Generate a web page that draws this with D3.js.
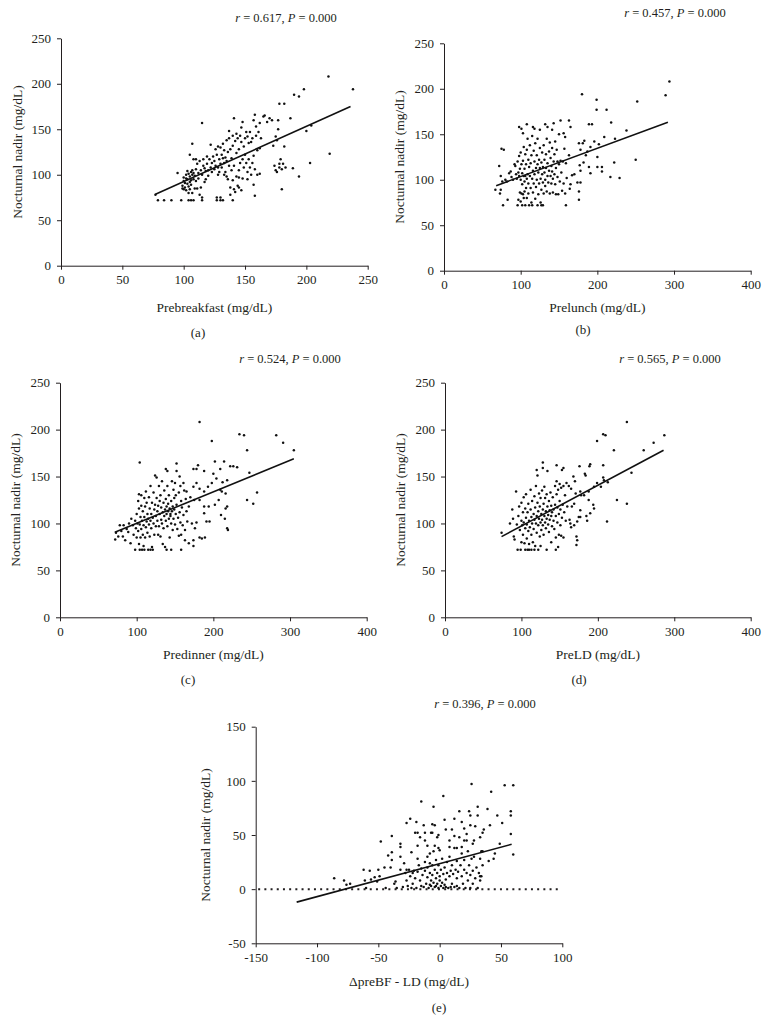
<!DOCTYPE html>
<html><head><meta charset="utf-8">
<script src="https://cdn.jsdelivr.net/npm/d3@7"></script>
<style>body{margin:0;background:#fff}</style>
</head><body><svg id="c" width="769" height="1033"></svg>
<script>
// ---------- DATA ----------
const pointsA = [[77,78],[79,72],[84,72],[90,72],[95,102],[98,72],[99,85],[99,88],[100,93],[100,84],[100,97],[101,86],[101,91],
[102,100],[102,96],[102,83],[103,90],[103,104],[103,95],[104,72],[104,87],[104,101],[104,80],[105,92],[105,98],[105,122],[105,84],[106,103],[106,72],[106,94],[106,89],[107,100],[107,105],[107,134],[107,80],[108,72],[108,117],[108,95],[108,102],[109,85],[109,99],[110,106],[110,117],[110,93],
[111,112],[111,85],[112,102],[112,96],[113,115],[113,78],[114,105],[114,86],[115,157],[115,72],[115,100],[115,75],[116,117],[116,110],[117,107],[117,92],[118,104],[118,95],[119,120],[119,112],[120,105],[120,99],
[121,117],[122,108],[122,133],[123,113],[123,103],[124,120],[125,106],[125,115],[126,128],[126,110],[127,75],[127,72],[127,122],[128,131],[128,108],[128,100],[129,117],[129,103],[130,130],[130,112],[130,75],[130,72],
[131,122],[131,108],[132,134],[132,118],[132,72],[133,100],[133,113],[133,127],[134,103],[134,119],[135,98],[135,138],[135,115],[136,125],[136,95],[137,110],[137,140],[137,148],[138,128],[138,86],[138,78],[139,118],[139,105],[140,143],[140,72],[140,132],[140,94],
[141,162],[141,84],[141,110],[142,137],[142,81],[143,124],[143,98],[143,145],[144,88],[144,140],[145,105],[145,128],[145,86],[145,97],[146,143],[146,113],[147,83],[147,136],[147,152],[148,96],[148,117],[148,158],[149,108],[149,131],[150,140],[150,122],
[151,113],[151,147],[152,103],[152,142],[152,95],[153,135],[153,117],[154,147],[154,108],[155,136],[155,100],[156,140],[156,113],[157,121],[157,89],[157,160],[158,166],[158,77],[158,106],[159,143],[159,153],[160,100],[160,127],[161,147],[162,157],[162,129],[162,101],
[163,140],[165,164],[166,165],[168,158],[170,162],[172,160],[173,132],[174,110],[175,142],[175,105],[176,138],[176,103],[177,160],[177,150],[178,178],[178,112],[178,108],[179,117],[180,84],[180,106],[181,112],[182,131],[182,178],[183,108],
[187,162],[189,107],[190,188],[194,186],[194,98],[198,194],[200,148],[203,113],[204,154],[218,208],[219,123],[238,194]];

const pointsB = [[67,89],[72,115],[73,85],[74,104],[74,89],[75,134],[76,98],[77,72],[78,133],[80,100],[82,98],[83,78],[85,107],[87,109],[88,103],[90,100],[92,117],[93,115],[94,106],[95,101],[96,72],[96,120],[97,108],[97,78],[98,158],[98,104],[98,126],[99,86],[99,112],[100,100],[100,76],[100,130],[101,156],[101,117],[101,85],[102,72],[102,107],[102,95],[103,151],[103,121],[103,84],[104,104],[104,136],[104,80],[105,98],[105,112],[105,87],[106,72],[106,128],[106,104],[107,117],[107,91],[108,161],[108,101],[108,133],[108,80],[109,106],[109,145],[110,122],[110,85],[110,96],[111,72],[111,114],[112,138],[112,104],[113,91],[113,118],[114,127],[114,75],[115,101],[115,72],[115,148],[116,158],[116,110],[116,86],[117,132],[117,96],[118,156],[118,120],[118,106],[119,79],[119,140],[120,113],[120,92],[121,100],[121,127],[122,72],[122,117],[122,145],[123,108],[123,84],[124,122],[124,96],[125,155],[125,135],[125,113],[126,101],[126,75],[127,72],[127,119],[127,89],[128,106],[128,130],[129,72],[129,97],[129,114],[130,138],[130,85],[131,108],[131,122],[132,161],[132,100],[132,93],[133,128],[133,113],[134,87],[134,145],[135,158],[135,104],[135,118],[136,97],[137,131],[137,110],[138,85],[138,141],[139,104],[139,124],[140,115],[140,96],[141,155],[141,135],[141,109],[142,101],[142,86],[143,162],[143,120],[144,128],[144,106],[145,95],[145,142],[146,113],[146,84],[147,133],[148,120],[148,103],[149,84],[150,150],[150,117],[151,98],[152,165],[152,121],[153,108],[154,88],[155,120],[156,151],[156,96],[157,134],[158,147],[158,85],[159,72],[159,118],[160,102],[163,165],[163,127],[164,90],[165,158],[165,95],[167,105],[170,106],[174,97],[176,140],[176,87],[176,78],[177,116],[178,133],[178,110],[178,97],[180,194],[181,140],[182,119],[183,143],[185,127],[187,131],[189,114],[189,161],[191,107],[191,136],[193,161],[196,142],[199,188],[199,177],[200,125],[200,114],[202,139],[206,114],[206,109],[209,147],[212,177],[217,103],[218,163],[222,119],[223,145],[229,102],[238,154],[250,122],[252,186],[289,193],[294,208]];

const pointsC = [[72,83],[73,90],[76,86],[78,98],[80,92],[82,86],[83,98],[85,82],[87,94],[89,91],[90,100],[92,79],[93,105],[95,98],[96,88],[98,72],[98,103],[99,95],[100,110],[100,85],[101,100],[102,124],[102,92],[103,116],[103,131],[103,78],[104,72],[104,165],[104,99],[105,107],[105,85],[106,119],[106,130],[106,94],[107,72],[107,103],[108,113],[108,88],[109,76],[109,98],[110,72],[110,127],[110,107],[111,118],[111,85],[112,134],[112,96],[113,102],[113,122],[114,90],[114,110],[115,72],[115,105],[116,99],[116,128],[117,116],[117,86],[118,72],[118,103],[118,140],[119,110],[119,95],[120,122],[120,75],[121,72],[121,106],[122,133],[122,100],[123,115],[123,88],[124,151],[124,120],[125,108],[125,97],[126,149],[126,127],[127,113],[127,103],[128,88],[128,119],[129,140],[129,97],[130,110],[130,124],[131,130],[131,86],[132,104],[132,117],[133,145],[133,100],[134,112],[134,78],[135,122],[135,95],[136,108],[136,135],[137,115],[137,75],[138,158],[138,103],[138,126],[139,72],[139,110],[139,118],[140,156],[140,97],[140,140],[141,113],[141,121],[142,105],[142,130],[143,116],[143,85],[144,110],[144,108],[145,72],[145,124],[145,100],[146,145],[146,113],[147,118],[147,93],[148,136],[148,105],[149,127],[149,115],[150,99],[150,143],[151,110],[151,130],[152,164],[152,156],[152,120],[153,94],[154,106],[155,133],[155,87],[156,150],[156,112],[157,101],[157,140],[158,72],[158,88],[158,124],[159,117],[160,98],[161,143],[161,109],[162,135],[163,82],[163,93],[164,126],[165,134],[165,113],[166,102],[168,79],[168,118],[170,128],[172,100],[174,82],[174,76],[174,139],[174,158],[175,125],[176,95],[178,101],[178,143],[178,158],[180,162],[182,137],[182,85],[182,125],[182,208],[185,84],[188,156],[188,134],[188,118],[188,111],[189,85],[191,102],[193,139],[194,118],[195,102],[198,143],[198,188],[200,153],[202,120],[202,166],[204,148],[207,125],[209,136],[209,158],[210,109],[211,134],[212,144],[214,166],[215,105],[216,132],[216,116],[218,146],[218,118],[218,95],[219,93],[222,161],[226,161],[231,160],[234,195],[240,194],[244,178],[244,125],[247,154],[252,121],[257,133],[282,194],[291,186],[305,178]];

const pointsD = [[74,90],[85,100],[88,115],[89,105],[90,86],[91,83],[93,134],[94,99],[95,72],[96,108],[97,118],[98,93],[99,72],[100,103],[100,122],[100,80],[101,98],[102,112],[102,88],[103,128],[103,101],[104,79],[105,72],[105,95],[105,116],[106,106],[106,131],[107,84],[107,99],[108,72],[108,112],[109,121],[109,92],[110,72],[110,103],[110,78],[111,96],[112,115],[112,136],[113,72],[113,107],[113,88],[114,100],[114,124],[115,80],[116,110],[116,94],[117,72],[117,129],[117,104],[118,76],[118,117],[119,100],[119,140],[120,157],[120,108],[120,90],[121,151],[121,122],[122,72],[122,98],[122,113],[123,132],[123,105],[124,86],[124,118],[125,76],[125,101],[125,127],[126,110],[126,93],[127,135],[127,104],[128,159],[128,165],[128,115],[128,98],[129,121],[129,88],[130,108],[130,139],[131,101],[131,127],[132,95],[132,113],[133,72],[133,131],[133,105],[134,156],[134,118],[135,99],[135,109],[136,124],[136,91],[137,114],[137,104],[138,133],[139,80],[139,108],[139,119],[140,97],[140,112],[141,128],[142,103],[142,115],[143,94],[144,140],[144,120],[145,72],[145,108],[145,85],[146,162],[146,145],[146,131],[147,117],[147,101],[148,75],[148,136],[149,110],[149,88],[150,124],[150,142],[151,98],[151,115],[152,87],[152,138],[153,157],[153,106],[154,120],[155,140],[155,159],[155,85],[156,112],[157,130],[158,103],[159,143],[160,118],[162,140],[163,104],[164,100],[165,96],[165,137],[166,118],[168,150],[169,98],[169,121],[170,145],[171,132],[172,86],[172,77],[173,82],[173,102],[175,107],[176,161],[177,134],[177,114],[177,107],[178,130],[182,130],[183,153],[184,151],[185,108],[186,103],[188,134],[188,125],[189,161],[190,163],[190,111],[194,120],[195,139],[195,116],[199,188],[199,143],[204,139],[207,162],[207,195],[207,149],[208,146],[210,194],[212,102],[213,144],[221,178],[225,125],[238,208],[238,121],[244,154],[260,178],[273,186],[287,194]];

const pointsE = [[-86,10],[-78,8],[-76,4],[-73,5],[-62,18],[-61,8],[-57,17],[-56,9],[-53,11],[-50,18],[-49,12],[-48,44],[-51,7],[-45,20],[-42,31],[-40,20],[-39,34],[-39,27],[-39,49],[-37,5],[-36,7],[-32,18],[-32,42],[-32,39],[-32,30],[-29,24],[-27,18],[-27,61],[-24,65],[-23,34],[-22,15],[-19,62],[-18,52],[-18,28],[-16,48],[-15,81],[-13,59],[-12,45],[-10,30],[-8,24],[-7,52],[-6,60],[-5,76],[-4,59],[-2,48],[-1,50],[0,36],[3,86],[4,64],[8,39],[10,55],[12,49],[16,72],[18,39],[20,45],[22,51],[24,72],[25,68],[26,97],[25,59],[27,42],[29,58],[31,68],[31,76],[33,48],[34,35],[36,55],[39,74],[41,59],[42,90],[45,33],[47,68],[49,42],[51,61],[53,96],[58,51],[58,72],[58,68],[60,96],[60,32],
[-28,15],[-27,8],[-26,3],[-25,18],[-24,12],[-23,1],[-22,5],[-21,17],[-20,10],[-19,1],[-18,16],[-17,22],[-16,8],[-15,19],[-14,13],[-13,2],[-12,25],[-12,17],[-11,5],[-10,11],[-10,20],[-9,1],[-8,15],[-8,33],[-7,8],[-7,3],[-6,22],[-6,13],[-5,6],[-5,35],[-4,18],[-4,2],[-3,10],[-3,27],[-2,5],[-2,15],[-1,1],[-1,22],[0,8],[0,12],[1,3],[1,18],[2,6],[2,28],[3,14],[3,1],[4,20],[5,9],[5,2],[6,25],[6,15],[7,1],[8,12],[8,30],[9,17],[10,5],[10,22],[11,14],[12,2],[12,38],[13,18],[14,10],[14,26],[15,16],[16,1],[16,48],[17,22],[18,12],[18,33],[19,5],[20,18],[20,27],[21,1],[22,15],[23,35],[23,8],[24,22],[25,13],[25,1],[26,28],[27,17],[27,5],[28,30],[29,10],[30,20],[31,1],[32,15],[33,8],[33,28],[34,12],[35,35],[35,22],
[-20,52],[-18,40],[-10,40],[-6,52],[-12,52],[-4,40],[-1,38],[5,55],[8,45],[14,38],[20,56],[22,45],[12,65],[18,62],[28,45],[35,52],[40,26],[44,28],[33,12],[-30,2],[-15,3],[-8,4],[-3,3],[4,4],[9,2],[14,3],[-44,1],[-35,1],[-60,1]];

const fitA = [[77,78.5],[236,175]];
const fitB = [[68,93.5],[292,163.3]];
const fitC = [[71.5,90.6],[305,169]];
const fitD = [[74,86],[286,178]];
const fitE = [[-116.6,-12],[58.7,41.4]];
const zeroLineE = [[-148,0],[98,0]];

const xLabels = ["Prebreakfast (mg/dL)","Prelunch (mg/dL)","Predinner (mg/dL)","PreLD (mg/dL)","\u0394preBF - LD (mg/dL)"];
const yLabel = "Nocturnal nadir (mg/dL)";
const rValues = ["0.617","0.457","0.524","0.565","0.396"];
const pValues = ["0.000","0.000","0.000","0.000","0.000"];
const panelLetters = ["(a)","(b)","(c)","(d)","(e)"];
const xTicksA = [0,50,100,150,200,250];
const xTicksBCD = [0,100,200,300,400];
const yTicksABCD = [0,50,100,150,200,250];
const xTicksE = [-150,-100,-50,0,50,100];
const yTicksE = [-50,0,50,100,150];

// ---------- LAYOUT ----------
const panels = [
 {pts:pointsA, fit:fitA, xd:[0,250], yd:[0,250], xt:xTicksA, yt:yTicksABCD, box:{l:61,r:367.7,t:38.3,b:265.7}, tx:286, ty:22, xly:312, lx:198, ly:337, yl:44},
 {pts:pointsB, fit:fitB, xd:[0,400], yd:[0,250], xt:xTicksBCD, yt:yTicksABCD, box:{l:444,r:750.7,t:43.3,b:270.7}, tx:675, ty:16.5, xly:312, lx:583, ly:334, yl:45},
 {pts:pointsC, fit:fitC, xd:[0,400], yd:[0,250], xt:xTicksBCD, yt:yTicksABCD, box:{l:60,r:366.7,t:382.7,b:617.3}, tx:290, ty:363, xly:659, lx:188, ly:684, yl:44.5},
 {pts:pointsD, fit:fitD, xd:[0,400], yd:[0,250], xt:xTicksBCD, yt:yTicksABCD, box:{l:445,r:750.7,t:382.7,b:617.3}, tx:670, ty:363, xly:659, lx:579, ly:684, yl:45},
 {pts:pointsE, fit:fitE, xd:[-150,100], yd:[-50,150], xt:xTicksE, yt:yTicksE, box:{l:255.7,r:562.3,t:726.7,b:943.3}, tx:485, ty:708, xly:986, lx:439, ly:1012, yl:50, zero:zeroLineE}
];

const FONT = "'Liberation Serif','Times New Roman',serif";
const ink = "#231f20";
const svg = d3.select("#c");
svg.append("rect").attr("width",769).attr("height",1033).attr("fill","#fff");

panels.forEach((p,i)=>{
  const x = d3.scaleLinear().domain(p.xd).range([p.box.l,p.box.r]);
  const y = d3.scaleLinear().domain(p.yd).range([p.box.b,p.box.t]);
  const g = svg.append("g");
  const fmt = d=>String(d);

  const xa = g.append("g").attr("transform",`translate(0,${p.box.b})`)
    .call(d3.axisBottom(x).tickValues(p.xt).tickSize(4).tickSizeOuter(0).tickPadding(5).tickFormat(fmt));
  const ya = g.append("g").attr("transform",`translate(${p.box.l},0)`)
    .call(d3.axisLeft(y).tickValues(p.yt).tickSize(4).tickSizeOuter(0).tickPadding(6).tickFormat(fmt));
  [xa,ya].forEach(a=>{
    a.selectAll("path,line").attr("stroke",ink).attr("stroke-width",1);
    a.selectAll("text").attr("fill",ink).style("font-family",FONT).style("font-size","13px");
  });

  if(p.zero){
    g.append("line")
      .attr("x1",x(p.zero[0][0])).attr("y1",y(p.zero[0][1]))
      .attr("x2",x(p.zero[1][0])).attr("y2",y(p.zero[1][1]))
      .attr("stroke",ink).attr("stroke-width",2).attr("stroke-dasharray","2,4.2");
  }

  g.append("g").selectAll("circle").data(p.pts).join("circle")
    .attr("cx",d=>x(d[0])).attr("cy",d=>y(d[1])).attr("r",1.25).attr("fill","#111");

  g.append("path").datum(p.fit)
    .attr("d",d3.line().x(d=>x(d[0])).y(d=>y(d[1])))
    .attr("stroke","#111").attr("stroke-width",1.6).attr("fill","none");

  // title
  const t = g.append("text").attr("x",p.tx).attr("y",p.ty).attr("text-anchor","middle")
    .style("font-family",FONT).style("font-size","12.5px").attr("fill",ink);
  t.append("tspan").style("font-style","italic").text("r");
  t.append("tspan").text(" = " + rValues[i] + ", ");
  t.append("tspan").style("font-style","italic").text("P");
  t.append("tspan").text(" = " + pValues[i]);

  // x label
  g.append("text").attr("x",(p.box.l+p.box.r)/2).attr("y",p.xly).attr("text-anchor","middle")
    .style("font-family",FONT).style("font-size","13.5px").attr("fill",ink).text(xLabels[i]);
  // y label
  g.append("text").attr("transform",`translate(${p.box.l-p.yl},${(p.box.t+p.box.b)/2}) rotate(-90)`)
    .attr("text-anchor","middle").attr("dy","0.35em")
    .style("font-family",FONT).style("font-size","13.5px").attr("fill",ink).text(yLabel);
  // panel letter
  g.append("text").attr("x",p.lx).attr("y",p.ly).attr("text-anchor","middle")
    .style("font-family",FONT).style("font-size","13px").attr("fill",ink).text(panelLetters[i]);
});
</script></body></html>
